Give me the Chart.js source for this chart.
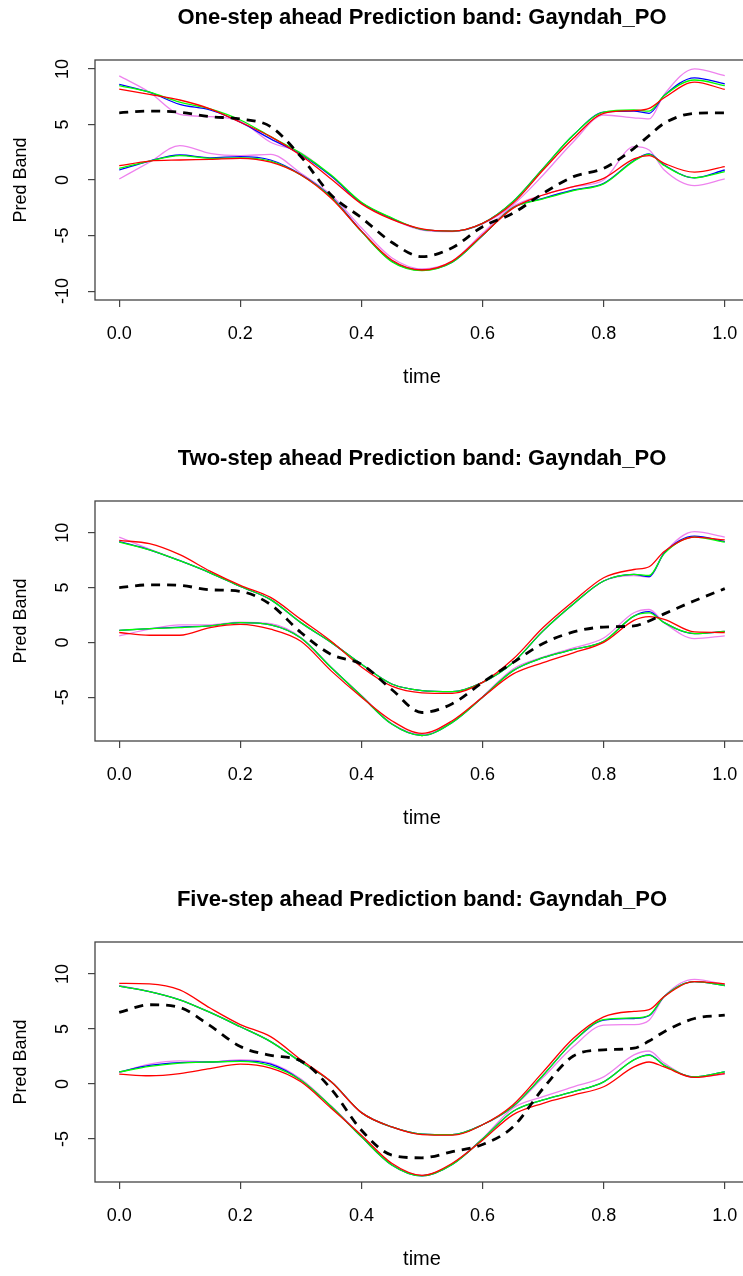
<!DOCTYPE html>
<html>
<head>
<meta charset="utf-8">
<script src="https://cdn.jsdelivr.net/npm/chart.js@4.4.1/dist/chart.umd.min.js"></script>
<style>
  html, body { margin: 0; padding: 0; background: #fff; }
  body { width: 743px; height: 1276px; overflow: hidden; position: relative; }
  .panel { position: absolute; left: 0; width: 760px; height: 441px; }
</style>
</head>
<body>
<div class="panel" style="top:-24px"><canvas id="c1" width="760" height="441"></canvas></div>
<div class="panel" style="top:417px"><canvas id="c2" width="760" height="441"></canvas></div>
<div class="panel" style="top:858px"><canvas id="c3" width="760" height="441"></canvas></div>
<script>
const FONT = '"Liberation Sans", Arial, sans-serif';

const time = [0, 0.05, 0.1, 0.15, 0.2, 0.25, 0.3, 0.35, 0.4, 0.45, 0.5, 0.55, 0.6, 0.65, 0.7, 0.75, 0.8, 0.85, 0.875, 0.9, 0.95, 1];
const xTicks = [0, 0.2, 0.4, 0.6, 0.8, 1.0];
const xTickLabels = ['0.0', '0.2', '0.4', '0.6', '0.8', '1.0'];

// one-step ahead
const oneMean = [6.05, 6.2, 6.1, 5.7, 5.5, 4.8, 2.1, -1.35, -3.4, -5.6, -6.9, -6.1, -4.2, -3.0, -1.2, 0.3, 1.05, 2.85, 4.0, 5.1, 6.0, 6.05];
const oneRedUp = [8.17, 7.7, 7.2, 6.4, 5.2, 3.9, 2.2, 0.1, -2.15, -3.55, -4.4, -4.6, -3.9, -2.1, 0.9, 3.75, 6.0, 6.25, 6.45, 7.4, 8.8, 8.15];
const oneBlueUp = [8.6, 7.9, 6.8, 6.3, 5.2, 3.7, 2.3, 0.35, -2.05, -3.45, -4.45, -4.6, -3.9, -1.95, 1.05, 4.05, 6.1, 6.2, 6.0, 7.6, 9.2, 8.65];
const oneGreenUp = [8.5, 7.9, 7.0, 6.4, 5.4, 3.9, 2.4, 0.45, -2.0, -3.4, -4.45, -4.6, -3.9, -1.95, 1.05, 4.05, 6.1, 6.3, 6.2, 7.6, 9.0, 8.5];
const oneVioletUp = [9.37, 7.9, 5.9, 5.7, 5.3, 3.4, 2.45, 0.35, -2.1, -3.5, -4.5, -4.65, -3.95, -2.25, 0.45, 3.45, 5.85, 5.6, 5.5, 7.7, 10.0, 9.4];
const oneRedLow = [1.29, 1.7, 1.8, 1.86, 1.95, 1.6, 0.45, -1.65, -4.6, -7.2, -8.1, -7.3, -4.95, -2.55, -1.35, -0.6, 0.15, 1.9, 2.2, 1.5, 0.7, 1.2];
const oneBlueLow = [0.9, 1.7, 2.25, 2.0, 2.1, 1.8, 0.5, -1.5, -4.6, -7.3, -8.1, -7.4, -5.0, -2.5, -1.65, -0.9, -0.3, 1.75, 2.35, 1.35, 0.2, 0.9];
const oneGreenLow = [1.05, 1.7, 2.2, 1.95, 2.0, 1.7, 0.45, -1.55, -4.65, -7.35, -8.15, -7.4, -5.0, -2.5, -1.7, -0.95, -0.35, 1.7, 2.3, 1.3, 0.2, 0.75];
const oneVioletLow = [0.09, 1.6, 3.1, 2.4, 2.2, 2.3, 0.6, -1.35, -4.3, -7.0, -8.0, -7.3, -4.8, -2.4, -1.35, -0.6, 0.0, 3.0, 2.7, 0.9, -0.5, 0.1];

// two-step ahead
const twoMean = [5.0, 5.25, 5.2, 4.8, 4.65, 3.45, 0.9, -1.1, -2.0, -4.3, -6.4, -5.6, -3.65, -1.85, -0.1, 0.95, 1.4, 1.5, 1.95, 2.6, 3.8, 4.9];
const twoRedUp = [9.3, 9.0, 8.0, 6.5, 5.2, 4.1, 2.1, 0.1, -2.25, -4.0, -4.6, -4.65, -3.65, -1.55, 1.35, 3.75, 5.9, 6.65, 6.9, 8.3, 9.6, 9.35];
const twoBlueUp = [9.2, 8.45, 7.45, 6.35, 5.1, 3.9, 1.8, 0.0, -2.0, -3.8, -4.4, -4.5, -3.65, -1.85, 1.05, 3.5, 5.6, 6.2, 6.0, 8.15, 9.7, 9.2];
const twoGreenUp = [9.15, 8.45, 7.45, 6.35, 5.1, 3.9, 1.8, 0.0, -2.0, -3.8, -4.4, -4.5, -3.65, -1.85, 1.05, 3.5, 5.6, 6.2, 6.1, 8.1, 9.6, 9.15];
const twoVioletUp = [9.6, 8.5, 7.45, 6.35, 5.1, 3.9, 1.8, 0.0, -2.0, -3.8, -4.4, -4.5, -3.65, -1.85, 1.05, 3.5, 5.6, 6.1, 5.95, 8.15, 10.1, 9.6];
const twoRedLow = [0.9, 0.65, 0.65, 1.35, 1.65, 1.2, 0.1, -2.6, -5.0, -7.15, -8.3, -7.15, -5.0, -2.9, -1.85, -0.95, 0.0, 2.0, 2.35, 2.1, 0.95, 0.9];
const twoBlueLow = [1.1, 1.25, 1.4, 1.5, 1.8, 1.6, 0.4, -2.3, -4.9, -7.45, -8.5, -7.3, -5.0, -2.6, -1.4, -0.65, 0.1, 2.4, 2.8, 1.8, 0.8, 1.0];
const twoGreenLow = [1.1, 1.25, 1.35, 1.5, 1.8, 1.6, 0.4, -2.3, -4.9, -7.45, -8.5, -7.3, -5.0, -2.6, -1.4, -0.65, 0.1, 2.4, 2.7, 1.8, 0.8, 1.0];
const twoVioletLow = [0.6, 1.2, 1.6, 1.6, 1.85, 1.7, 0.45, -2.3, -4.85, -7.4, -8.4, -7.25, -4.95, -2.45, -1.35, -0.5, 0.4, 2.7, 3.0, 1.8, 0.35, 0.6];

// five-step ahead
const fiveMean = [6.5, 7.2, 6.95, 5.3, 3.4, 2.6, 2.1, -0.45, -4.2, -6.45, -6.7, -6.15, -5.5, -3.9, -0.4, 2.55, 3.1, 3.25, 3.9, 4.75, 5.95, 6.25];
const fiveRedUp = [9.15, 9.1, 8.55, 6.9, 5.4, 4.3, 2.2, 0.2, -2.6, -3.9, -4.6, -4.65, -3.7, -1.9, 1.1, 4.15, 6.1, 6.6, 6.75, 7.95, 9.3, 9.1];
const fiveBlueUp = [8.9, 8.4, 7.65, 6.5, 5.2, 3.85, 2.0, 0.2, -2.6, -3.9, -4.55, -4.6, -3.7, -2.05, 0.8, 3.85, 5.8, 5.95, 6.2, 7.95, 9.3, 8.95];
const fiveGreenUp = [8.9, 8.4, 7.65, 6.5, 5.2, 3.85, 2.0, 0.2, -2.6, -3.9, -4.55, -4.6, -3.7, -2.05, 0.8, 3.85, 5.85, 6.0, 6.25, 7.95, 9.3, 8.95];
const fiveVioletUp = [8.95, 8.4, 7.65, 6.5, 5.2, 3.85, 2.0, 0.2, -2.6, -3.9, -4.55, -4.6, -3.7, -2.1, 0.6, 3.4, 5.35, 5.4, 5.8, 7.95, 9.5, 9.05];
const fiveRedLow = [0.9, 0.75, 0.95, 1.4, 1.8, 1.45, 0.2, -2.2, -4.65, -7.2, -8.3, -7.2, -5.1, -2.8, -1.75, -1.0, -0.25, 1.55, 2.0, 1.55, 0.6, 0.95];
const fiveBlueLow = [1.1, 1.7, 1.95, 2.0, 2.1, 1.8, 0.35, -2.05, -4.8, -7.35, -8.35, -7.3, -5.0, -2.5, -1.45, -0.7, 0.2, 2.2, 2.65, 1.7, 0.65, 1.1];
const fiveGreenLow = [1.1, 1.6, 1.9, 2.0, 2.05, 1.65, 0.35, -2.05, -4.8, -7.35, -8.35, -7.3, -5.0, -2.5, -1.45, -0.7, 0.2, 2.2, 2.6, 1.7, 0.65, 1.1];
const fiveVioletLow = [1.05, 1.8, 2.1, 2.0, 2.2, 1.9, 0.45, -2.0, -4.7, -7.3, -8.3, -7.25, -4.95, -2.2, -1.15, -0.25, 0.65, 2.65, 3.0, 1.9, 0.6, 0.9];

const yTicksOne = [-10, -5, 0, 5, 10];
const yTicksTwo = [-5, 0, 5, 10];
const yTicksFive = [-5, 0, 5, 10];

// box, rotated y labels and main title, R style
const panelDecor = {
    id: 'panelDecor',
    afterDraw(chart, args, opts) {
        const { ctx, chartArea: a } = chart;
        const y = chart.scales.y;
        ctx.save();
        ctx.strokeStyle = '#444';
        ctx.lineWidth = 1.3;
        ctx.strokeRect(a.left, a.top, a.right - a.left, a.bottom - a.top);

        ctx.fillStyle = '#000';
        ctx.font = `18px ${FONT}`;
        ctx.textAlign = 'center';
        ctx.textBaseline = 'middle';
        y.ticks.forEach(t => {
            ctx.save();
            ctx.translate(a.left - 32, y.getPixelForValue(t.value));
            ctx.rotate(-Math.PI / 2);
            ctx.fillText(String(t.value), 0, 0);
            ctx.restore();
        });

        ctx.font = `bold 22px ${FONT}`;
        ctx.fillText(opts.text, (a.left + a.right) / 2, 42);
        ctx.restore();
    }
};

function linea(valores, cor, extra = {}) {
    return {
        data: valores.map((v, i) => ({ x: time[i], y: v })),
        borderColor: cor,
        borderWidth: 1.3,
        pointRadius: 0,
        cubicInterpolationMode: 'monotone',
        fill: false,
        ...extra
    };
}

function criarPainel(id, titulo, yMin, yMax, yTicks, s) {
    const datasets = [
        linea(s.mean, '#000000', { borderWidth: 2.8, borderDash: [9, 7] }),
        linea(s.redUp, '#ff0000'), linea(s.redLow, '#ff0000'),
        linea(s.greenUp, '#00ff00'), linea(s.greenLow, '#00ff00'),
        linea(s.blueUp, '#0000ff'), linea(s.blueLow, '#0000ff'),
        linea(s.violetUp, '#ee82ee'), linea(s.violetLow, '#ee82ee')
    ];

    new Chart(document.getElementById(id), {
        type: 'line',
        data: { datasets },
        plugins: [panelDecor],
        options: {
            responsive: false,
            animation: false,
            devicePixelRatio: 1,
            layout: { padding: { top: 84, right: 11, bottom: 28, left: 0 } },
            plugins: {
                legend: { display: false },
                tooltip: { enabled: false },
                title: { display: false },
                panelDecor: { text: titulo }
            },
            scales: {
                x: {
                    type: 'linear',
                    min: -0.04,
                    max: 1.04,
                    afterBuildTicks: sc => { sc.ticks = xTicks.map(v => ({ value: v })); },
                    afterFit: sc => { sc.height = 89; },
                    ticks: {
                        color: '#000',
                        font: { family: FONT, size: 18 },
                        padding: 16,
                        maxRotation: 0,
                        callback: (v, i) => xTickLabels[i]
                    },
                    grid: { drawOnChartArea: false, tickLength: 7, color: '#444', lineWidth: 1.2 },
                    border: { display: false },
                    title: {
                        display: true,
                        text: 'time',
                        color: '#000',
                        font: { family: FONT, size: 20 },
                        padding: 0
                    }
                },
                y: {
                    min: yMin,
                    max: yMax,
                    afterBuildTicks: sc => { sc.ticks = yTicks.map(v => ({ value: v })); },
                    afterFit: sc => { sc.width = 95; },
                    ticks: { display: false },
                    grid: { drawOnChartArea: false, tickLength: 7, color: '#444', lineWidth: 1.2 },
                    border: { display: false },
                    title: {
                        display: true,
                        text: 'Pred Band',
                        color: '#000',
                        font: { family: FONT, size: 18 },
                        padding: { top: 10, bottom: 0 }
                    }
                }
            }
        }
    });
}

criarPainel('c1', 'One-step ahead Prediction band: Gayndah_PO', -10.8, 10.8, yTicksOne, {
    mean: oneMean, redUp: oneRedUp, redLow: oneRedLow, blueUp: oneBlueUp, blueLow: oneBlueLow,
    greenUp: oneGreenUp, greenLow: oneGreenLow, violetUp: oneVioletUp, violetLow: oneVioletLow
});
criarPainel('c2', 'Two-step ahead Prediction band: Gayndah_PO', -9.0, 12.9, yTicksTwo, {
    mean: twoMean, redUp: twoRedUp, redLow: twoRedLow, blueUp: twoBlueUp, blueLow: twoBlueLow,
    greenUp: twoGreenUp, greenLow: twoGreenLow, violetUp: twoVioletUp, violetLow: twoVioletLow
});
criarPainel('c3', 'Five-step ahead Prediction band: Gayndah_PO', -8.9, 12.9, yTicksFive, {
    mean: fiveMean, redUp: fiveRedUp, redLow: fiveRedLow, blueUp: fiveBlueUp, blueLow: fiveBlueLow,
    greenUp: fiveGreenUp, greenLow: fiveGreenLow, violetUp: fiveVioletUp, violetLow: fiveVioletLow
});
</script>
</body>
</html>
